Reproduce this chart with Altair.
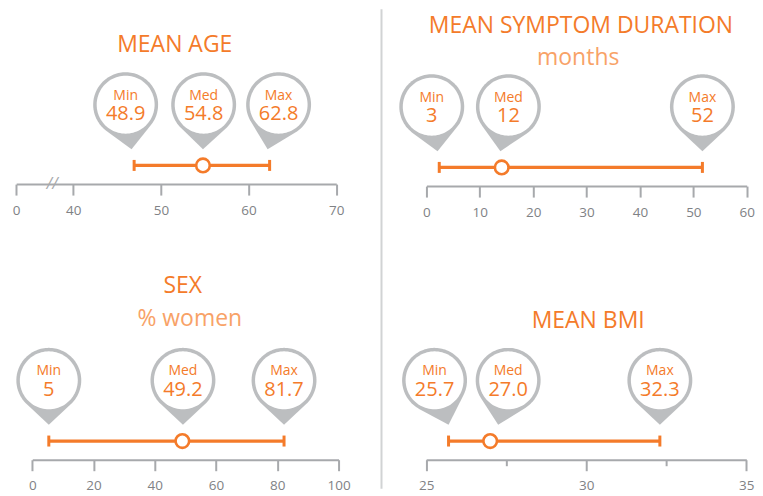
import math
import altair as alt
import pandas as pd

# ---------------- data ----------------
stat_names = ["Min", "Med", "Max"]
panel_titles = ["MEAN AGE", "MEAN SYMPTOM DURATION", "SEX", "MEAN BMI"]
panel_subtitles = ["", "months", "% women", ""]

age_labels = ["48.9", "54.8", "62.8"]
age_values = [46.95, 54.8, 62.4]
age_ticks = [33.5, 40, 50, 60, 70]
age_tick_labels = ["0", "40", "50", "60", "70"]
age_break_at = [37.6]

dur_labels = ["3", "12", "52"]
dur_values = [2.4, 14.1, 51.7]
dur_ticks = [0, 10, 20, 30, 40, 50, 60]
dur_tick_labels = ["0", "10", "20", "30", "40", "50", "60"]

sex_labels = ["5", "49.2", "81.7"]
sex_values = [5.4, 49.0, 82.2]
sex_ticks = [0, 20, 40, 60, 80, 100]
sex_tick_labels = ["0", "20", "40", "60", "80", "100"]

bmi_labels = ["25.7", "27.0", "32.3"]
bmi_values = [25.7, 27.0, 32.3]
bmi_ticks = [25, 27.5, 30, 32.5, 35]
bmi_tick_labels = ["25", "", "30", "", "35"]

# ---------------- style ----------------
FONT = "Open Sans"
ORANGE = "#F47B2A"
ORANGE_LIGHT = "#F8A267"
PIN_GRAY = "#BCBEC0"
AXIS_GRAY = "#A7A9AC"
LABEL_GRAY = "#808285"
DIVIDER = "#D1D3D4"
R_OUT = 32.5
R_IN = 29.0
TIP_DROP = 44.5
PANEL_W = 373

panels = [
    dict(values=age_values, labels=age_labels, ticks=age_ticks, tick_labels=age_tick_labels,
         domain=[33.5, 70], rng=[8.2, 328.7], height=175, title_xy=(167, 42.7), sub_xy=None,
         nudges=[(-8.5, -2.6), (0.7, 0.0), (9.0, -2.0)], brk=True, divider=False, minor=False),
    dict(values=dur_values, labels=dur_labels, ticks=dur_ticks, tick_labels=dur_tick_labels,
         domain=[0, 60], rng=[46.0, 366.7], height=177, title_xy=(200.7, 23.7), sub_xy=(198, 55.3),
         nudges=[(-7.5, -1.7), (6.7, -1.3), (0.0, 0.0)], brk=False, divider=True, minor=False),
    dict(values=sex_values, labels=sex_labels, ticks=sex_ticks, tick_labels=sex_tick_labels,
         domain=[0, 100], rng=[24.3, 331.0], height=209, title_xy=(175, 41.7), sub_xy=(182, 75),
         nudges=[(0.0, 0.0), (0.6, 0.6), (0.0, 0.0)], brk=False, divider=False, minor=False),
    dict(values=bmi_values, labels=bmi_labels, ticks=bmi_ticks, tick_labels=bmi_tick_labels,
         domain=[25, 35], rng=[45.7, 366.3], height=209, title_xy=(208, 76.7), sub_xy=None,
         nudges=[(-14.0, 0.0), (18.0, 8.0), (0.0, 0.0)], brk=False, divider=False, minor=True),
]


def circle_pts(cx, cy, r, a0, a1, n):
    return [(cx + r * math.cos(a0 + (a1 - a0) * k / n), cy + r * math.sin(a0 + (a1 - a0) * k / n))
            for k in range(n + 1)]


def to_path(pts, s):
    return "M" + "L".join(f"{x / s:.4f},{y / s:.4f}" for x, y in pts) + "Z"


def pin_outer(cdx, tdx):
    cx, cy = cdx, -TIP_DROP
    vx, vy = tdx - cx, 0 - cy
    d = math.hypot(vx, vy)
    phi = math.atan2(vy, vx)
    a = math.acos(R_OUT / d)
    pts = [(tdx, 0.0)] + circle_pts(cx, cy, R_OUT, phi + a, phi + 2 * math.pi - a, 96)
    return to_path(pts, R_OUT)


def pin_inner(cdx):
    pts = circle_pts(cdx, -TIP_DROP, R_IN, 0, 2 * math.pi, 96)[:-1]
    return to_path(pts, R_OUT)


def label_expr(ticks, labels):
    lab = ",".join("'" + l + "'" for l in labels)
    tk = ",".join(str(t) for t in ticks)
    return f"[{lab}][indexof([{tk}], datum.value)]"


def build_panel(i, p):
    df = pd.DataFrame({"stat": stat_names, "value": p["values"], "label": p["labels"]})
    tick_size = 11
    if p["minor"]:
        tick_size = {"condition": {"test": "datum.value % 5 != 0", "value": 6}, "value": 11}
    axis = alt.Axis(values=p["ticks"], title=None, grid=False,
                    labelExpr=label_expr(p["ticks"], p["tick_labels"]),
                    domainColor=AXIS_GRAY, domainWidth=2, tickColor=AXIS_GRAY, tickWidth=2,
                    tickSize=tick_size, labelColor=LABEL_GRAY, labelFont=FONT, labelFontSize=13.5,
                    labelPadding=8, labelFlush=False, labelOverlap=False)
    scale = alt.Scale(domain=p["domain"], range=p["rng"], zero=False, nice=False)

    def X(f):
        return alt.X(f, scale=scale, axis=axis)

    H = p["height"]
    cy = H - 79.5
    tip_y = H - 35
    eb_y = H - 18.7
    base = alt.Chart(df)
    layers = []

    span = pd.DataFrame({"lo": [p["values"][0]], "hi": [p["values"][2]]})
    layers.append(alt.Chart(span).mark_rule(color=ORANGE, strokeWidth=3.2).encode(
        x=X("lo:Q"), x2="hi:Q", y=alt.value(eb_y)))
    layers.append(base.transform_filter("datum.stat != 'Med'").mark_rule(
        color=ORANGE, strokeWidth=3).encode(
        x=X("value:Q"), y=alt.value(eb_y - 5.5), y2=alt.value(eb_y + 5.5)))
    layers.append(base.transform_filter("datum.stat == 'Med'").mark_point(
        shape="circle", size=185, filled=True, fill="white", stroke=ORANGE, strokeWidth=2.6,
        opacity=1).encode(x=X("value:Q"), y=alt.value(eb_y)))

    for k, (cdx, tdx) in enumerate(p["nudges"]):
        row = base.transform_filter(f"datum.stat == '{stat_names[k]}'")
        layers.append(row.mark_point(shape=pin_outer(cdx, tdx), size=(2 * R_OUT) ** 2, filled=True,
                                     fill=PIN_GRAY, strokeWidth=0, opacity=1).encode(
            x=X("value:Q"), y=alt.value(tip_y)))
        layers.append(row.mark_point(shape=pin_inner(cdx), size=(2 * R_OUT) ** 2, filled=True,
                                     fill="white", strokeWidth=0, opacity=1).encode(
            x=X("value:Q"), y=alt.value(tip_y)))
        layers.append(row.mark_text(dx=cdx, fontSize=14, font=FONT, color=ORANGE,
                                    baseline="alphabetic", align="center").encode(
            x=X("value:Q"), y=alt.value(cy - 5.0), text="stat:N"))
        layers.append(row.mark_text(dx=cdx, fontSize=20, font=FONT, color=ORANGE,
                                    baseline="alphabetic", align="center").encode(
            x=X("value:Q"), y=alt.value(cy + 15.5), text="label:N"))

    tx, ty = p["title_xy"]
    layers.append(alt.Chart(pd.DataFrame({"t": [panel_titles[i]]})).mark_text(
        fontSize=23, font=FONT, color=ORANGE, baseline="alphabetic", align="center").encode(
        x=alt.value(tx), y=alt.value(ty), text="t:N"))
    if p["sub_xy"] is not None:
        sx, sy = p["sub_xy"]
        layers.append(alt.Chart(pd.DataFrame({"t": [panel_subtitles[i]]})).mark_text(
            fontSize=23, font=FONT, color=ORANGE_LIGHT, baseline="alphabetic", align="center").encode(
            x=alt.value(sx), y=alt.value(sy), text="t:N"))
    if p["brk"]:
        layers.append(alt.Chart(pd.DataFrame({"v": age_break_at})).mark_text(
            text="//", fontSize=16, font=FONT, color=AXIS_GRAY, baseline="middle", align="center",
            fontStyle="italic").encode(
            x=X("v:Q"), y=alt.value(H)))
    if p["divider"]:
        layers.append(alt.Chart(pd.DataFrame({"d": [0]})).mark_rule(
            color=DIVIDER, strokeWidth=2).encode(x=alt.value(1), y=alt.value(0), y2=alt.value(480)))

    return alt.layer(*layers).properties(width=PANEL_W, height=H)


charts = [build_panel(i, p) for i, p in enumerate(panels)]
chart = alt.concat(*charts, columns=2, spacing={"row": 65, "column": 0}, bounds="flush").properties(
    padding=0).configure_view(stroke=None)

chart.save("out.html", embed_options={"renderer": "svg", "actions": False})
